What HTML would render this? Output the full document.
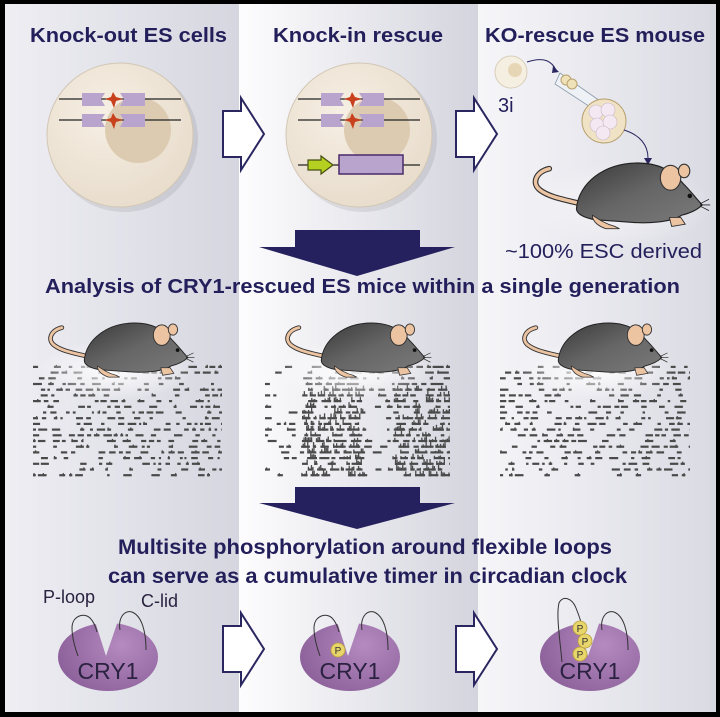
<!DOCTYPE html>
<html><head><meta charset="utf-8"><style>
html,body{margin:0;padding:0;background:#000;}
svg{display:block;}
text{font-family:"Liberation Sans",Arial,sans-serif;}
</style></head><body>
<svg id="s" width="720" height="717" viewBox="0 0 720 717" xmlns="http://www.w3.org/2000/svg">
<defs>
<linearGradient id="c1" x1="0" x2="1" y1="0" y2="0"><stop offset="0" stop-color="#eeeef3"/><stop offset="1" stop-color="#d6d6e0"/></linearGradient>
<linearGradient id="c2" x1="0" x2="1" y1="0" y2="0"><stop offset="0" stop-color="#fdfdfe"/><stop offset="1" stop-color="#d4d4de"/></linearGradient>
<linearGradient id="c3" x1="0" x2="1" y1="0" y2="0"><stop offset="0" stop-color="#f6f6f9"/><stop offset="1" stop-color="#dadae3"/></linearGradient>
<radialGradient id="cell" cx="0.4" cy="0.35" r="0.7"><stop offset="0" stop-color="#f6efe4"/><stop offset="1" stop-color="#e8dccb"/></radialGradient>
<linearGradient id="mg" x1="0" x2="1" y1="0" y2="1"><stop offset="0" stop-color="#3a3a3a"/><stop offset="0.5" stop-color="#666"/><stop offset="1" stop-color="#7a7a7a"/></linearGradient>
<radialGradient id="cry" cx="0.6" cy="0.45" r="0.6"><stop offset="0" stop-color="#b48ac0"/><stop offset="1" stop-color="#8a5e98"/></radialGradient>
<radialGradient id="shade" cx="0.5" cy="0.5" r="0.5"><stop offset="0" stop-color="#fff" stop-opacity="0.95"/><stop offset="1" stop-color="#fff" stop-opacity="0"/></radialGradient>
<symbol id="mouse" viewBox="0 0 160 60" overflow="visible">
 <path d="M50,36 C34,32 22,30 14,24 C6,18 10,8 22,5" fill="none" stroke="#333" stroke-width="5" stroke-linecap="round"/>
 <path d="M50,36 C34,32 22,30 14,24 C6,18 10,8 22,5" fill="none" stroke="#edc4a2" stroke-width="3" stroke-linecap="round"/>
 <path d="M46,40 C48,18 70,0 100,0 C120,0 132,8 140,18 C148,26 152,32 157,37 C153,41 147,44 139,46 C130,52 110,54 90,52 L62,50 C52,48 46,45 46,40 Z" fill="url(#mg)" stroke="#222" stroke-width="1"/>
 <path d="M60,46 C66,50 72,54 80,56 L84,58 L72,58 C66,56 60,52 60,46Z" fill="#edc4a2" stroke="#333" stroke-width="0.8"/>
 <path d="M128,48 L138,48 L142,54 L130,56 Z" fill="#edc4a2" stroke="#333" stroke-width="0.8"/>
 <ellipse cx="129" cy="13" rx="9" ry="11" fill="#edc4a2" stroke="#333" stroke-width="1"/>
 <ellipse cx="141" cy="7" rx="5" ry="6" fill="#edc4a2" stroke="#333" stroke-width="1"/>
 <circle cx="146" cy="29" r="2" fill="#111"/>
 <path d="M155,36 l8,-4 M155,37 l9,0 M155,38 l8,4" stroke="#222" stroke-width="0.7"/>
</symbol>
<symbol id="harr" viewBox="0 0 44 74" overflow="visible">
 <path d="M1,14 L19,14 L19,1 L42,37 L19,73 L19,60 L1,60 Z" fill="#fff" stroke="#2a2660" stroke-width="2"/>
</symbol>
<mask id="m1"><ellipse cx="108" cy="657" rx="50" ry="34" fill="#fff"/><path d="M92,612 L106,656 L121,612Z" fill="#000"/></mask>
</defs>
<rect width="720" height="717" fill="#000"/>
<rect x="5" y="4" width="234" height="708" fill="url(#c1)"/>
<rect x="239" y="4" width="239" height="708" fill="url(#c2)"/>
<rect x="478" y="4" width="238" height="708" fill="url(#c3)"/>

<g fill="#231f5a" font-weight="bold" font-size="20">
<text x="30" y="42" textLength="197" lengthAdjust="spacingAndGlyphs">Knock-out ES cells</text>
<text x="273" y="42" textLength="170" lengthAdjust="spacingAndGlyphs">Knock-in rescue</text>
<text x="485" y="42" textLength="220" lengthAdjust="spacingAndGlyphs">KO-rescue ES mouse</text>
</g>

<!-- cell 1 -->
<ellipse cx="124" cy="139" rx="74" ry="73" fill="#000" opacity="0.08"/>
<ellipse cx="120" cy="135" rx="73" ry="72" fill="url(#cell)" stroke="#d2c6b4"/>
<circle cx="138" cy="130" r="33" fill="#ddcbb1"/>
<g stroke="#222" stroke-width="1.2"><line x1="59" y1="99" x2="181" y2="99"/><line x1="59" y1="120" x2="181" y2="120"/></g>
<g fill="#b8a4cc"><path d="M82,93 H105 L101,99 L105,106 H82Z"/><path d="M120,93 H145 V106 H120 L124,99Z"/><path d="M82,114 H105 L101,120 L105,127 H82Z"/><path d="M120,114 H145 V127 H120 L124,120Z"/></g>
<g fill="#c8401c"><path d="M113,92 L116,97 L123,99 L116,101 L114,108 L111,101 L105,99 L111,97Z"/><path d="M113,113 L116,118 L123,120 L116,122 L114,129 L111,122 L105,120 L111,118Z"/></g>
<!-- cell 2 -->
<ellipse cx="363" cy="139" rx="74" ry="73" fill="#000" opacity="0.08"/>
<ellipse cx="359" cy="135" rx="73" ry="72" fill="url(#cell)" stroke="#d2c6b4"/>
<circle cx="377" cy="130" r="33" fill="#ddcbb1"/>
<g stroke="#222" stroke-width="1.2"><line x1="298" y1="99" x2="420" y2="99"/><line x1="298" y1="120" x2="420" y2="120"/><line x1="298" y1="165" x2="420" y2="165"/></g>
<g fill="#b8a4cc"><path d="M321,93 H344 L340,99 L344,106 H321Z"/><path d="M359,93 H384 V106 H359 L363,99Z"/><path d="M321,114 H344 L340,120 L344,127 H321Z"/><path d="M359,114 H384 V127 H359 L363,120Z"/></g>
<g fill="#c8401c"><path d="M352,92 L355,97 L362,99 L355,101 L353,108 L350,101 L344,99 L350,97Z"/><path d="M352,113 L355,118 L362,120 L355,122 L353,129 L350,122 L344,120 L350,118Z"/></g>
<path d="M308,160 H321 V156 L333,165 L321,174 V170 H308Z" fill="#b5d020" stroke="#445010" stroke-width="1.2"/>
<rect x="339" y="155" width="64" height="19" fill="#b8a4cc" stroke="#4a2a6a" stroke-width="1.5"/>

<use href="#harr" x="222" y="97" width="44" height="74"/>
<use href="#harr" x="455" y="97" width="44" height="74"/>

<!-- right top -->
<circle cx="511" cy="72" r="16" fill="#f5efe2" stroke="#d8cdb8"/>
<circle cx="515" cy="70" r="7" fill="#e7d6b5"/>
<path d="M527,62 C545,56 552,62 556,70" fill="none" stroke="#2a2660" stroke-width="1"/>
<path d="M553,66 l6,6 l-7,1z" fill="#2a2660"/>
<path d="M560,73 L610,108 L604,116 L555,84Z" fill="#eef2f6" stroke="#8a9aaa" stroke-width="0.8"/>
<circle cx="566" cy="80" r="5" fill="#f0e2b8" stroke="#b8a070"/><circle cx="572" cy="84" r="5" fill="#f0e2b8" stroke="#b8a070"/>
<circle cx="604" cy="121" r="22" fill="#f0e2c4" stroke="#b8a070"/>
<g fill="#f4e8f2" stroke="#c8b8c8" stroke-width="0.6"><circle cx="596" cy="112" r="7"/><circle cx="608" cy="110" r="7"/><circle cx="597" cy="125" r="7"/><circle cx="610" cy="122" r="7"/><circle cx="603" cy="133" r="7"/></g>
<path d="M624,130 C640,135 648,145 648,158" fill="none" stroke="#2a2660" stroke-width="1"/>
<path d="M644,158 l4,7 l4,-7z" fill="#2a2660"/>
<ellipse cx="620" cy="205" rx="95" ry="42" fill="url(#shade)" opacity="0.6"/>
<use href="#mouse" x="520" y="163" width="190" height="68"/>
<text x="498" y="112" font-size="20" fill="#231f5a">3i</text>
<text x="505" y="258" font-size="20" fill="#231f5a" textLength="197" lengthAdjust="spacingAndGlyphs">~100% ESC derived</text>

<path d="M295,230 H420 V247 H455 L357,276 L259,247 H295Z" fill="#25215e"/>
<text x="45" y="293" font-size="20" font-weight="bold" fill="#231f5a" textLength="635" lengthAdjust="spacingAndGlyphs">Analysis of CRY1-rescued ES mice within a single generation</text>

<g id="acto"></g>
<ellipse cx="115" cy="370" rx="80" ry="30" fill="url(#shade)"/>
<ellipse cx="355" cy="370" rx="80" ry="30" fill="url(#shade)"/>
<ellipse cx="595" cy="370" rx="80" ry="30" fill="url(#shade)"/>
<use href="#mouse" x="36" y="323" width="160" height="56"/>
<use href="#mouse" x="273" y="323" width="160" height="56"/>
<use href="#mouse" x="510" y="323" width="160" height="56"/>

<path d="M295,487 H420 V503 H455 L357,529 L259,503 H295Z" fill="#25215e"/>
<g font-size="21" font-weight="bold" fill="#231f5a">
<text x="118" y="554" textLength="494" lengthAdjust="spacingAndGlyphs">Multisite phosphorylation around flexible loops</text>
<text x="108" y="583" textLength="519" lengthAdjust="spacingAndGlyphs">can serve as a cumulative timer in circadian clock</text>
</g>

<g id="cryA">
<rect x="50" y="600" width="120" height="100" fill="url(#cry)" mask="url(#m1)"/>
</g>
<use href="#cryA" x="242"/>
<use href="#cryA" x="482"/>
<g fill="none" stroke="#333" stroke-width="1">
<path d="M78,656 C74,645 72,636 72,628 C72,616 84,612 90,618 C94,622 96,628 97,632"/>
<path d="M120,630 C118,618 124,610 132,612 C142,616 146,632 146,650"/>
<path d="M320,656 C316,645 314,636 314,628 C314,616 326,612 332,618 C336,622 338,628 339,632"/>
<path d="M362,630 C360,618 366,610 374,612 C384,616 388,632 388,650"/>
<path d="M562,662 C560,640 556,615 559,603 C563,595 572,598 576,608 C580,618 582,625 583,630"/>
<path d="M602,630 C600,618 606,610 614,612 C624,616 628,632 628,650"/>
</g>
<g fill="#e9d66a" stroke="#b8a040" stroke-width="0.8"><circle cx="338" cy="650" r="7"/><circle cx="580" cy="628" r="7"/><circle cx="585" cy="641" r="7"/><circle cx="580" cy="654" r="7"/></g>
<g font-size="10" fill="#333" text-anchor="middle"><text x="338" y="654">P</text><text x="580" y="632">P</text><text x="585" y="645">P</text><text x="580" y="658">P</text></g>
<g font-size="23" fill="#2a2240" text-anchor="middle"><text x="108" y="679">CRY1</text><text x="350" y="679">CRY1</text><text x="590" y="679">CRY1</text></g>
<text x="43" y="603" font-size="18" fill="#2a2240">P-loop</text>
<text x="141" y="607" font-size="18" fill="#2a2240">C-lid</text>
<use href="#harr" x="222" y="612" width="44" height="74"/>
<use href="#harr" x="455" y="612" width="44" height="74"/>
</svg>
<script>
(function(){
var g=document.getElementById('acto'),ns='http://www.w3.org/2000/svg',seed=11;
function r(){seed=(seed*16807)%2147483647;return seed/2147483647;}
function bar(x,y,w,h){var e=document.createElementNS(ns,'rect');e.setAttribute('x',x.toFixed(1));e.setAttribute('y',(y-h).toFixed(1));e.setAttribute('width',w.toFixed(1));e.setAttribute('height',h.toFixed(1));e.setAttribute('fill','#4a4a4a');g.appendChild(e);}
function acto(x0,x1,mid){
 for(var i=0;i<20;i++){var y=368+i*5.7;var x=x0;
  while(x<x1){
   var inb=mid&&((x>300&&x<362)||(x>392&&x<450));
   var p=mid?(inb?(i>3?0.85:0.6):0.2):0.45;
   if(r()<p){var len=inb?3+r()*10:2+r()*7;if(x+len>x1)len=x1-x;
     bar(x,y,len,2.2);
     if(inb&&i>3){var sx=x;while(sx<x+len-1){if(r()<0.5)bar(sx,y,1.3,2.5+r()*3.5);sx+=1.5;}}
     else if(r()<0.3)bar(x+r()*len*0.7,y,1.3,3.2);
     x+=len+1.5+r()*3;}
   else x+=2+r()*7;
  }}
}
acto(33,222,false);acto(265,450,true);acto(500,690,false);
})();
</script>
</body></html>
